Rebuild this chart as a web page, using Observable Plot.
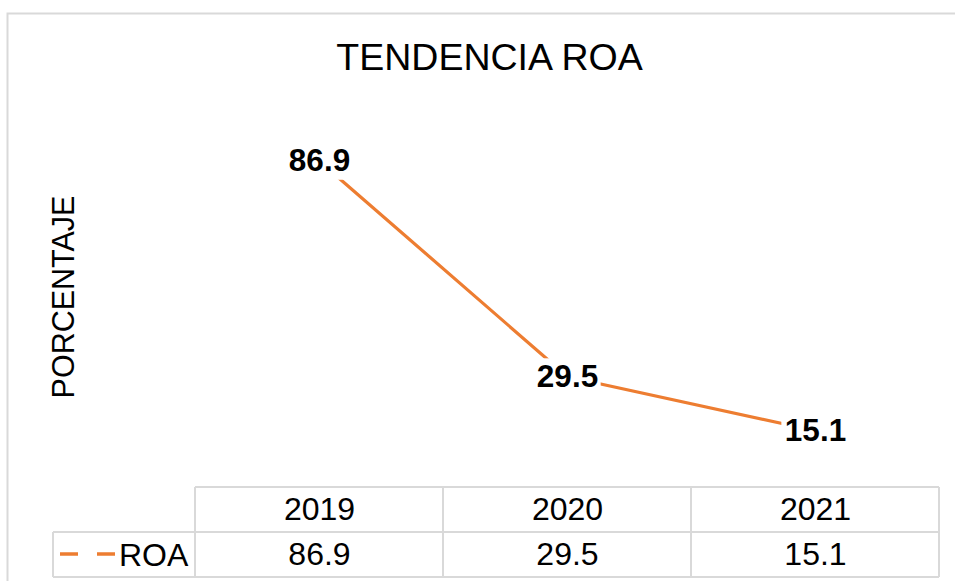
<!DOCTYPE html>
<html>
<head>
<meta charset="utf-8">
<script src="https://cdn.jsdelivr.net/npm/d3@7"></script>
<script src="https://cdn.jsdelivr.net/npm/@observablehq/plot@0.6"></script>
<style>
  html, body { margin: 0; padding: 0; background: #ffffff; }
  #chart { width: 955px; height: 581px; overflow: hidden; }
</style>
</head>
<body>
<div id="chart"></div>
<script>
const years = ["2019", "2020", "2021"];
const roa = [86.9, 29.5, 15.1];
const seriesName = "ROA";
const titleText = "TENDENCIA ROA";
const yLabel = "PORCENTAJE";

const data = years.map((y, i) => ({year: y, value: roa[i]}));
const FONT = "'Liberation Sans', Arial, Helvetica, sans-serif";
const ORANGE = "#ED7D31";
const GRID = "#d9d9d9";

const chart = Plot.plot({
  width: 955,
  height: 581,
  marginLeft: 194,
  marginRight: 16,
  marginTop: 111.5,
  marginBottom: 94,
  style: {fontFamily: FONT, background: "#ffffff", color: "#000"},
  x: {type: "point", domain: years, padding: 0.5, axis: null},
  y: {domain: [0, 100], axis: null},
  marks: [
    Plot.line(data, {x: "year", y: "value", stroke: ORANGE, strokeWidth: 3.2}),
    Plot.text(data, {x: "year", y: "value", text: d => d.value.toFixed(1),
      fontSize: 31.5, fontWeight: "bold", fill: "#000", lineAnchor: "middle", className: "dlabel"}),
    // data table: header (years) and values
    Plot.text(years, {x: d => d, frameAnchor: "bottom", dy: 22.5, text: d => d,
      fontSize: 32, fill: "#000", lineAnchor: "middle"}),
    Plot.text(data, {x: "year", frameAnchor: "bottom", dy: 67, text: d => d.value.toFixed(1),
      fontSize: 32, fill: "#000", lineAnchor: "middle"})
  ]
});

document.getElementById("chart").appendChild(chart);

const svg = d3.select(chart);
const xs = chart.scale("x");
const centers = years.map(y => xs.apply(y));
const step = centers[1] - centers[0];
const left = centers[0] - step / 2;
const right = centers[centers.length - 1] + step / 2;
const top0 = 487, mid = 532, bot = 577;
const legendLeft = 53;

// white boxes behind data labels (labels occlude the line)
const lblGroup = chart.querySelector("g.dlabel");
if (lblGroup) {
  const boxes = d3.select(lblGroup.parentNode).insert("g", () => lblGroup);
  lblGroup.querySelectorAll("text").forEach(el => {
    const b = el.getBBox();
    const tr = el.getAttribute("transform");
    const r = boxes.append("rect")
      .attr("x", b.x - 3).attr("y", b.y + 1).attr("width", b.width + 6).attr("height", b.height + 1)
      .attr("fill", "#ffffff");
    if (tr) r.attr("transform", tr);
  });
}

const g = svg.insert("g", ":first-child");
// outer chart border (cropped)
g.append("rect").attr("x", 7.5).attr("y", 13.5).attr("width", 1000).attr("height", 600)
  .attr("fill", "none").attr("stroke", GRID).attr("stroke-width", 2);

const t = svg.append("g").attr("stroke", GRID).attr("stroke-width", 2).attr("fill", "none");
t.append("line").attr("x1", left).attr("x2", right).attr("y1", top0).attr("y2", top0);
t.append("line").attr("x1", legendLeft).attr("x2", right).attr("y1", mid).attr("y2", mid);
t.append("line").attr("x1", legendLeft).attr("x2", right).attr("y1", bot).attr("y2", bot);
t.append("line").attr("x1", legendLeft).attr("x2", legendLeft).attr("y1", mid).attr("y2", bot);
for (let i = 0; i <= years.length; i++) {
  const xv = left + i * step;
  t.append("line").attr("x1", xv).attr("x2", xv).attr("y1", top0).attr("y2", bot);
}

// legend key in table
svg.append("line").attr("x1", 60).attr("x2", 115).attr("y1", 554).attr("y2", 554)
  .attr("stroke", ORANGE).attr("stroke-width", 3.5).attr("stroke-dasharray", "18,19");
svg.append("text").attr("x", 119).attr("y", 554).attr("dy", "0.36em")
  .attr("text-anchor", "start")
  .attr("font-size", 32).attr("font-family", FONT).attr("fill", "#000").text(seriesName);

// title
svg.append("text").attr("x", 489.5).attr("y", 56).attr("dy", "0.36em")
  .attr("text-anchor", "middle").attr("font-size", 37.5).attr("font-family", FONT)
  .attr("fill", "#000").text(titleText);

// y-axis title
svg.append("text").attr("transform", "translate(63,297) rotate(-90)").attr("dy", "0.36em")
  .attr("text-anchor", "middle").attr("font-size", 30.5).attr("font-family", FONT)
  .attr("fill", "#000").text(yLabel);
</script>
</body>
</html>
